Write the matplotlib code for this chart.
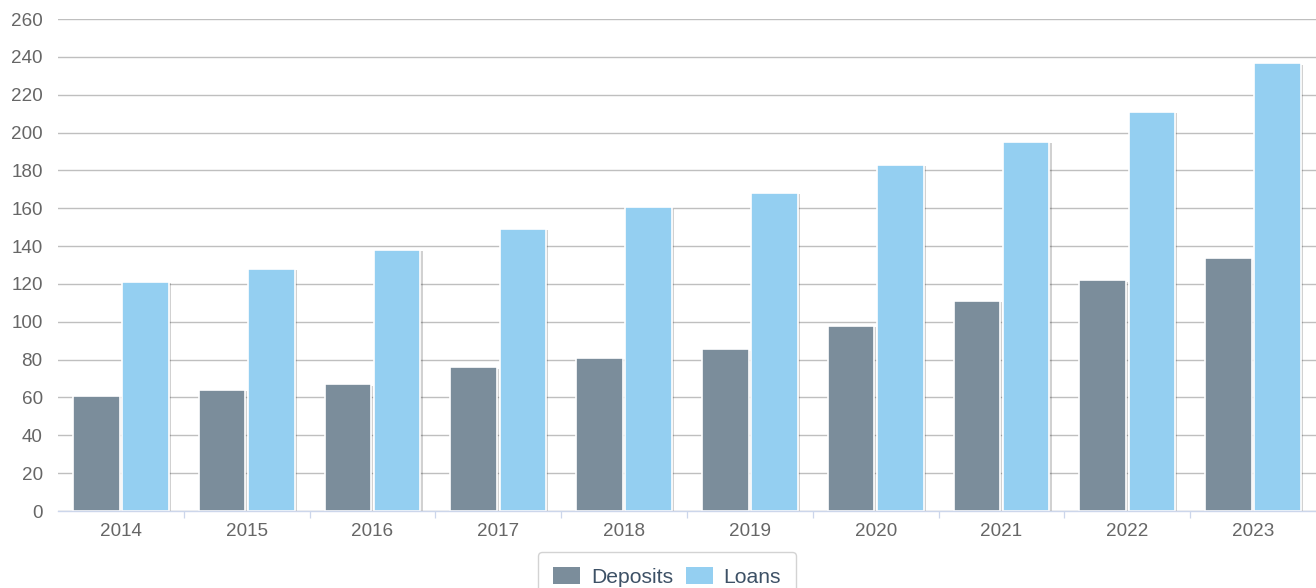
import numpy as np
import matplotlib
matplotlib.use("Agg")
import matplotlib.pyplot as plt
import matplotlib.patheffects as pe
from matplotlib.patches import Patch

years = ["2014", "2015", "2016", "2017", "2018", "2019", "2020", "2021", "2022", "2023"]
deposits = [61, 64, 67, 76, 81, 85.5, 98, 111, 122, 133.5]
loans = [121, 128, 138, 149, 160.5, 168, 183, 195, 211, 236.5]

DEP_COLOR = "#7b8d9b"
LOAN_COLOR = "#94cff1"
TEXT_COLOR = "#666666"

plt.rcParams["font.family"] = ["Liberation Sans", "DejaVu Sans"]

fig = plt.figure(figsize=(13.16, 5.88), dpi=100)
ax = fig.add_axes([58 / 1316, 1 - 511 / 588, 1 - 58 / 1316, 492 / 588])

x = np.arange(len(years))
w = 0.37
off = 0.196
shadow = [pe.SimplePatchShadow(offset=(1.5, -1.0), shadow_rgbFace="#000000", alpha=0.18), pe.Normal()]

b1 = ax.bar(x - off, deposits, width=w, color=DEP_COLOR, edgecolor="white", linewidth=1.2, zorder=3)
b2 = ax.bar(x + off, loans, width=w, color=LOAN_COLOR, edgecolor="white", linewidth=1.2, zorder=3)
for bar in list(b1) + list(b2):
    bar.set_path_effects(shadow)

ax.set_xlim(-0.5, len(years) - 0.5)
ax.set_ylim(0, 260)
ax.set_yticks(np.arange(0, 261, 20))
ax.yaxis.grid(True, color="#bfbfbf", linewidth=1.0, zorder=0)
ax.set_axisbelow(True)

ax.set_xticks(x)
ax.set_xticklabels(years)
ax.set_xticks(np.arange(0.5, len(years) - 0.5, 1.0), minor=True)
ax.tick_params(axis="x", which="major", length=0, pad=9, labelsize=13.6, labelcolor=TEXT_COLOR)
ax.tick_params(axis="x", which="minor", length=5, width=0.9, color="#ccd6eb", direction="out")
ax.tick_params(axis="y", length=0, pad=11, labelsize=13.6, labelcolor=TEXT_COLOR)

for s in ["top", "right", "left"]:
    ax.spines[s].set_visible(False)
ax.spines["bottom"].set_color("#ccd6eb")
ax.spines["bottom"].set_linewidth(1.0)
ax.spines["bottom"].set_zorder(4)

handles = [Patch(facecolor=DEP_COLOR, edgecolor="none", label="Deposits"),
           Patch(facecolor=LOAN_COLOR, edgecolor="none", label="Loans")]
leg = fig.legend(handles=handles, loc="upper center", bbox_to_anchor=(667 / 1316, 1 - 552 / 588),
                 ncol=2, fontsize=15.2, frameon=True, fancybox=True, edgecolor="#c8c8c8",
                 handlelength=1.3, handleheight=0.85, handletextpad=0.5, columnspacing=0.6,
                 borderpad=0.7, borderaxespad=0.0, labelcolor="#3d5166")
leg.get_frame().set_linewidth(1.0)

fig.savefig("out.png", dpi=100)
